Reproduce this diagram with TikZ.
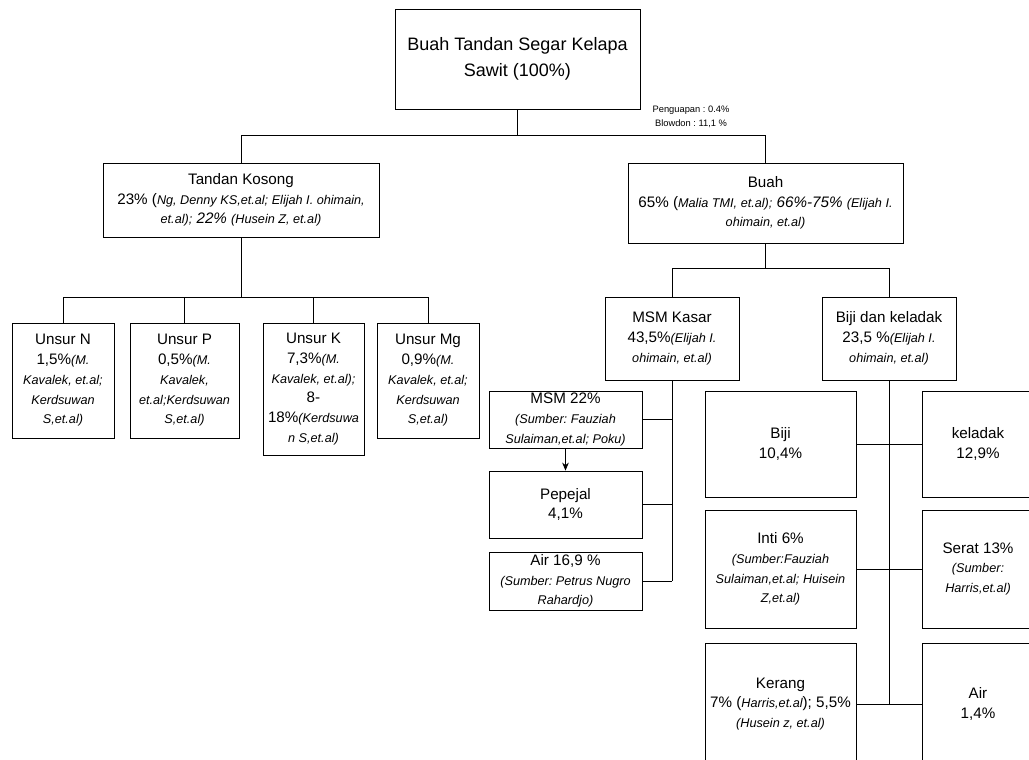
\documentclass[tikz,border=0pt]{standalone}
\usepackage{fontspec}
\setmainfont{Liberation Sans}
\usetikzlibrary{arrows.meta}
\frenchspacing
\newcommand{\sumber}[1]{{\fontsize{9.5}{14.8}\selectfont\itshape #1}}

\begin{document}
\begin{tikzpicture}[x=0.75pt, y=-0.75pt,
        box/.style={draw, line width=0.6pt, align=center, inner sep=1pt, font=\fontsize{11.4}{14.8}\selectfont},
        link/.style={line width=0.6pt}]
        % Frame (the diagram is cut at the right and at the bottom)
        \clip (0,0) rectangle (1029,760);

        % Top level
        \node[box, minimum width=183.75pt, minimum height=75pt, font=\fontsize{13.5}{19}\selectfont] (tbs) at (517.5,59) {Buah Tandan Segar Kelapa\\Sawit (100\%)};
        \node[align=center, font=\fontsize{7}{10.5}\selectfont] (loss) at (691,117) {Penguapan : 0.4\%\\Blowdon : 11,1 \%};

        % Second level
        \node[box, minimum width=207pt, minimum height=55.5pt] (tankos) at (241,200) {Tandan Kosong\\23\% (\sumber{Ng, Denny KS,et.al; Elijah I. ohimain,}\\\sumber{et.al);} {\itshape 22\%} \sumber{(Husein Z, et.al)}};
        \node[box, minimum width=206.25pt, minimum height=60pt] (buah) at (765.5,203) {Buah\\65\% (\sumber{Malia TMI, et.al);} {\itshape 66\%-75\%} \sumber{(Elijah I.}\\\sumber{ohimain, et.al)}};

        % Unsur in tandan kosong
        \node[box, minimum width=76.5pt, minimum height=86.25pt] (unsurN) at (63,380.5) {Unsur N\\1,5\%\sumber{(M.}\\\sumber{Kavalek, et.al;}\\\sumber{Kerdsuwan}\\\sumber{S,et.al)}};
        \node[box, minimum width=81.75pt, minimum height=86.25pt] (unsurP) at (184.5,380.5) {Unsur P\\0,5\%\sumber{(M.}\\\sumber{Kavalek,}\\\sumber{et.al;Kerdsuwan}\\\sumber{S,et.al)}};
        \node[box, minimum width=75.75pt, minimum height=99pt] (unsurK) at (313.5,389) {Unsur K\\7,3\%\sumber{(M.}\\\sumber{Kavalek, et.al);}\\8-\\18\%\sumber{(Kerdsuwa}\\\sumber{n S,et.al)}};
        \node[box, minimum width=76.5pt, minimum height=86.25pt] (unsurMg) at (428,380.5) {Unsur Mg\\0,9\%\sumber{(M.}\\\sumber{Kavalek, et.al;}\\\sumber{Kerdsuwan}\\\sumber{S,et.al)}};

        % Buah
        \node[box, minimum width=100.5pt, minimum height=62.25pt] (msmkasar) at (672,338.5) {MSM Kasar\\43,5\%\sumber{(Elijah I.}\\\sumber{ohimain, et.al)}};
        \node[box, minimum width=100.5pt, minimum height=62.25pt] (bijikel) at (889,338.5) {Biji dan keladak\\23,5 \%\sumber{(Elijah I.}\\\sumber{ohimain, et.al)}};

        % MSM kasar
        \node[box, minimum width=114.75pt, minimum height=42.75pt] (msm22) at (565.5,419.5) {MSM 22\%\\\sumber{(Sumber: Fauziah}\\\sumber{Sulaiman,et.al; Poku)}};
        \node[box, minimum width=114.75pt, minimum height=50.25pt] (pepejal) at (565.5,504.5) {Pepejal\\4,1\%};
        \node[box, minimum width=114.75pt, minimum height=43.5pt] (air169) at (565.5,581) {Air 16,9 \%\\\sumber{(Sumber: Petrus Nugro}\\\sumber{Rahardjo)}};

        % Biji dan keladak
        \node[box, minimum width=113.25pt, minimum height=79.5pt] (biji) at (780.5,444) {Biji\\10,4\%};
        \node[box, minimum width=84pt, minimum height=79.5pt] (keladak) at (978,444) {keladak\\12,9\%};
        \node[box, minimum width=113.25pt, minimum height=88.5pt] (inti) at (780.5,569) {Inti 6\%\\\sumber{(Sumber:Fauziah}\\\sumber{Sulaiman,et.al; Huisein}\\\sumber{Z,et.al)}};
        \node[box, minimum width=84pt, minimum height=88.5pt] (serat) at (978,569) {Serat 13\%\\\sumber{(Sumber:}\\\sumber{Harris,et.al)}};
        \node[box, minimum width=113.25pt, minimum height=91.5pt] (kerang) at (780.5,704) {Kerang\\7\% (\sumber{Harris,et.al}); 5,5\%\\\sumber{(Husein z, et.al)}};
        \node[box, minimum width=84pt, minimum height=91.5pt] (air14) at (978,704) {Air\\1,4\%};

        % Branch lines
        \coordinate (b1) at (517.5,135);
        \draw[link] (tbs) -- (b1);
        \draw[link] (b1) -| (tankos.north);
        \draw[link] (b1) -| (buah.north);

        \coordinate (b2) at (241,297);
        \draw[link] (tankos) -- (b2);
        \foreach \u in {unsurN,unsurP,unsurK,unsurMg}
            \draw[link] (b2) -| (\u.north);

        \coordinate (b3) at (765.5,268);
        \draw[link] (buah) -- (b3);
        \draw[link] (b3) -| (msmkasar.north);
        \draw[link] (b3) -| (bijikel.north);

        \draw[link] (msmkasar.south) -- (msmkasar.south |- air169.east);
        \foreach \m in {msm22,pepejal,air169}
            \draw[link] (\m.east) -- (\m.east -| msmkasar.south);
        \draw[link, -{Stealth[length=6pt, width=5pt]}] (msm22) -- (pepejal);

        \draw[link] (bijikel.south) -- (bijikel.south |- kerang.east);
        \draw[link] (biji) -- (keladak);
        \draw[link] (inti) -- (serat);
        \draw[link] (kerang) -- (air14);
\end{tikzpicture}
\end{document}
